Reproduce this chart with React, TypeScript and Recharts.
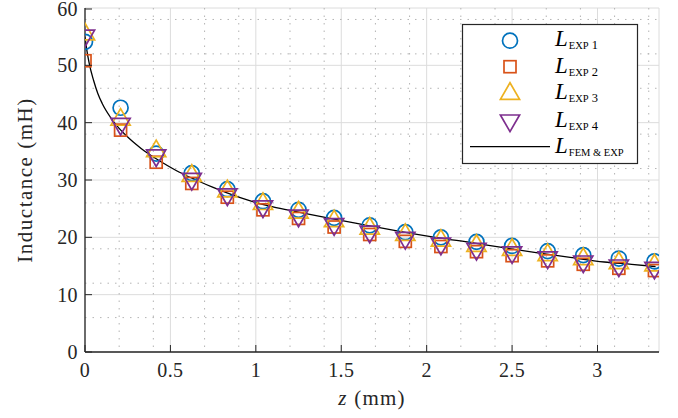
import React from 'react';
import { ComposedChart, XAxis, YAxis, CartesianGrid, Scatter, Line, Legend } from 'recharts';

// ---- data ----
const Z_POS = [0, 0.2083, 0.4167, 0.625, 0.8333, 1.0417, 1.25, 1.4583, 1.6667, 1.875, 2.0833, 2.2917, 2.5, 2.7083, 2.9167, 3.125, 3.3333];
const L_EXP1 = [54.1, 42.6, 34.6, 31.2, 28.4, 26.3, 24.8, 23.4, 22.1, 20.9, 20.0, 19.2, 18.5, 17.6, 16.9, 16.3, 15.8];
const L_EXP2 = [50.8, 38.7, 33.1, 29.4, 27.0, 24.8, 23.3, 21.8, 20.5, 19.3, 18.4, 17.5, 16.8, 15.9, 15.3, 14.6, 14.2];
const L_EXP3 = [55.9, 41.0, 35.5, 31.2, 28.5, 26.3, 24.8, 23.3, 22.0, 20.9, 19.9, 19.0, 18.3, 17.4, 16.7, 16.0, 15.6];
const L_EXP4 = [54.7, 39.3, 33.8, 29.7, 27.0, 24.9, 23.3, 21.8, 20.5, 19.4, 18.4, 17.5, 16.9, 16.0, 15.3, 14.6, 14.2];

const CURVE_Z = [0, 0.01, 0.025, 0.05, 0.075, 0.1, 0.15, 0.2, 0.25, 0.3, 0.35, 0.45, 0.55, 0.65, 0.75, 0.9, 1.1, 1.25, 1.45, 1.65, 1.85, 2.05, 2.28, 2.45, 2.65, 2.84, 3.04, 3.2, 3.34];
const CURVE_L = [55.0, 52.8, 50.3, 47.4, 45.1, 43.4, 40.9, 39.0, 37.5, 36.2, 35.0, 33.1, 31.4, 30.0, 28.7, 27.0, 25.3, 24.4, 23.2, 22.1, 21.0, 20.0, 19.0, 18.2, 17.3, 16.5, 15.7, 15.3, 14.9];

const X_TICKS = [0, 0.5, 1, 1.5, 2, 2.5, 3];
const Y_TICKS = [0, 10, 20, 30, 40, 50, 60];
const X_MINOR = [0.1, 0.2, 0.3, 0.4, 0.6, 0.7, 0.8, 0.9, 1.1, 1.2, 1.3, 1.4, 1.6, 1.7, 1.8, 1.9, 2.1, 2.2, 2.3, 2.4, 2.6, 2.7, 2.8, 2.9, 3.1, 3.2, 3.3];
const Y_MINOR = [2, 4, 6, 8, 12, 14, 16, 18, 22, 24, 26, 28, 32, 34, 36, 38, 42, 44, 46, 48, 52, 54, 56, 58];

const mk = (vals: number[]) => Z_POS.map((z, i) => ({ z, v: vals[i] }));
const d1 = mk(L_EXP1);
const d2 = mk(L_EXP2);
const d3 = mk(L_EXP3);
const d4 = mk(L_EXP4);
const curve = CURVE_Z.map((z, i) => ({ z, v: CURVE_L[i] }));

// ---- styles ----
const BLUE = '#0072BD';
const ORANGE = '#D95319';
const YELLOW = '#EDB120';
const PURPLE = '#7E2F8E';
const AXIS = '#262626';
const FONT = 'Liberation Serif, DejaVu Serif, serif';
const SW = 1.7;

const CircleM = ({ cx, cy }: any) => <circle cx={cx} cy={cy} r={7.5} fill="none" stroke={BLUE} strokeWidth={SW} />;
const SquareM = ({ cx, cy }: any) => <rect x={cx - 6} y={cy - 6} width={12} height={12} fill="none" stroke={ORANGE} strokeWidth={SW} />;
const UpM = ({ cx, cy }: any) => (
  <polygon points={`${cx},${cy - 8.3} ${cx - 9.6},${cy + 8.3} ${cx + 9.6},${cy + 8.3}`} fill="none" stroke={YELLOW} strokeWidth={SW} strokeLinejoin="miter" />
);
const DownM = ({ cx, cy }: any) => (
  <polygon points={`${cx},${cy + 8.3} ${cx - 9.6},${cy - 8.3} ${cx + 9.6},${cy - 8.3}`} fill="none" stroke={PURPLE} strokeWidth={SW} strokeLinejoin="miter" />
);

const txt = (size: number, extra: any = {}) => ({ fontFamily: FONT, fontSize: size, ...extra });

const XTick = ({ x, y, payload }: any) => (
  <g>
    <line x1={x} x2={x} y1={y} y2={y - 7} stroke={AXIS} strokeWidth={1} />
    <text x={x} y={y + 24.5} textAnchor="middle" fill={AXIS} style={txt(20, { letterSpacing: 0.4 })}>
      {payload.value}
    </text>
  </g>
);
const YTick = ({ x, y, payload }: any) => (
  <g>
    <line x1={x} x2={x + 7} y1={y} y2={y} stroke={AXIS} strokeWidth={1} />
    <text x={x - 7} y={y + 7} textAnchor="end" fill={AXIS} style={txt(20, { letterSpacing: 0.4 })}>
      {payload.value}
    </text>
  </g>
);

const YLabel = ({ viewBox }: any) => {
  const cx = viewBox.x + 25;
  const cy = viewBox.y + viewBox.height / 2;
  return (
    <text x={cx} y={cy} transform={`rotate(-90 ${cx} ${cy})`} textAnchor="middle" dominantBaseline="central" fill={AXIS} style={txt(21, { letterSpacing: 1.5 })}>
      Inductance (mH)
    </text>
  );
};
const XLabel = ({ viewBox }: any) => {
  const cx = viewBox.x + viewBox.width / 2;
  const y = viewBox.y + 53;
  return (
    <text x={cx} y={y} textAnchor="middle" fill={AXIS} style={txt(21, { letterSpacing: 1.2 })}>
      <tspan style={{ fontStyle: 'italic' }}>z</tspan> (mm)
    </text>
  );
};

const LEG_ITEMS = [
  { sub: 'EXP', num: '1', kind: 'c' },
  { sub: 'EXP', num: '2', kind: 's' },
  { sub: 'EXP', num: '3', kind: 'u' },
  { sub: 'EXP', num: '4', kind: 'd' },
  { sub: 'FEM & EXP', num: '', kind: 'l' },
];
const LEG_MARK_Y = [40.7, 66.7, 91, 123.3, 146.7];
const LEG_TEXT_Y = [46, 73, 99, 126.5, 152.5];

const LegendBox = () => (
  <svg width={678} height={418} style={{ position: 'absolute', left: 0, top: 0 }}>
    <rect x={462.5} y={24.5} width={175} height={139} fill="#fff" stroke={AXIS} strokeWidth={1.2} />
    {LEG_ITEMS.map((it, i) => {
      const my = LEG_MARK_Y[i];
      const ty = LEG_TEXT_Y[i];
      let mark: any = null;
      if (it.kind === 'c') mark = <CircleM cx={510} cy={my} />;
      if (it.kind === 's') mark = <SquareM cx={510} cy={my} />;
      if (it.kind === 'u') mark = <UpM cx={510} cy={my} />;
      if (it.kind === 'd') mark = <DownM cx={510} cy={my} />;
      if (it.kind === 'l') mark = <line x1={470} x2={550} y1={my} y2={my} stroke="#000" strokeWidth={1.3} />;
      return (
        <g key={i}>
          {mark}
          <text x={555} y={ty} fill="#000" style={{ fontFamily: FONT }}>
            <tspan style={{ fontStyle: 'italic', fontSize: 23 }}>L</tspan>
            <tspan style={{ fontSize: 10.5 }} dx={1} dy={3}>{it.sub}</tspan>
            {it.num ? <tspan style={{ fontSize: 12.5 }} dx={3}>{it.num}</tspan> : null}
          </text>
        </g>
      );
    })}
  </svg>
);

export default function App() {
  return (
    <div style={{ position: 'absolute', left: 0, top: 0, width: 678, height: 418, background: '#fff' }}>
      <ComposedChart width={678} height={418} margin={{ top: 8, right: 19, bottom: 0, left: 0 }}>
        <CartesianGrid stroke="#dcdcdc" strokeWidth={1} />
        <CartesianGrid stroke="#b4b4b4" strokeWidth={1} strokeDasharray="1.5 6" horizontalValues={Y_MINOR} verticalValues={X_MINOR} />
        <XAxis
          dataKey="z"
          type="number"
          domain={[0, 3.36]}
          allowDataOverflow
          ticks={X_TICKS}
          height={66}
          tickSize={0}
          tickMargin={0}
          tickLine={false}
          axisLine={{ stroke: AXIS, strokeWidth: 1.3 }}
          tick={<XTick />}
          label={<XLabel />}
        />
        <YAxis
          dataKey="v"
          type="number"
          domain={[0, 60]}
          allowDataOverflow
          ticks={Y_TICKS}
          width={85}
          tickSize={0}
          tickMargin={0}
          tickLine={false}
          axisLine={{ stroke: AXIS, strokeWidth: 1.3 }}
          tick={<YTick />}
          label={<YLabel />}
        />
        <Scatter data={d1} dataKey="v" shape={<CircleM />} isAnimationActive={false} />
        <Scatter data={d2} dataKey="v" shape={<SquareM />} isAnimationActive={false} />
        <Scatter data={d3} dataKey="v" shape={<UpM />} isAnimationActive={false} />
        <Scatter data={d4} dataKey="v" shape={<DownM />} isAnimationActive={false} />
        <Line data={curve} dataKey="v" type="monotone" stroke="#000" strokeWidth={1.3} dot={false} activeDot={false} isAnimationActive={false} />
        <Legend
          layout="horizontal"
          verticalAlign="middle"
          align="center"
          content={() => <LegendBox />}
          wrapperStyle={{ position: 'absolute', left: 0, top: 0, width: 678, height: 418, pointerEvents: 'none' }}
        />
      </ComposedChart>
    </div>
  );
}
